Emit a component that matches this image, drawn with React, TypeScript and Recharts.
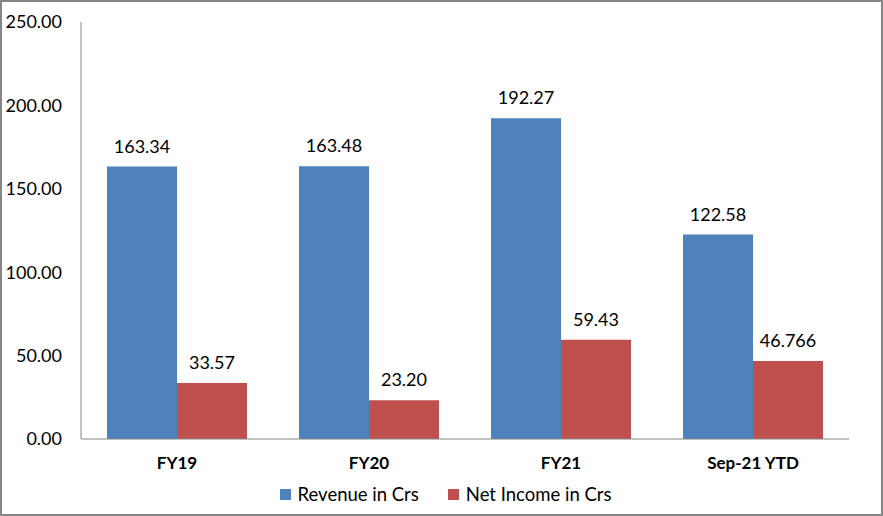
import React from "react"
import { BarChart, Bar, XAxis, YAxis, Legend, LabelList } from "recharts"

const categories = ["FY19", "FY20", "FY21", "Sep-21 YTD"]
const revenue = [163.34, 163.48, 192.27, 122.58]
const netIncome = [33.57, 23.2, 59.43, 46.766]
const revenueLabels = ["163.34", "163.48", "192.27", "122.58"]
const netIncomeLabels = ["33.57", "23.20", "59.43", "46.766"]
const yTicks = [0, 50, 100, 150, 200, 250]

const BLUE = "#4F81BD"
const RED = "#C0504D"
const FONT = "Lato, Carlito, 'Open Sans', sans-serif"

const data = categories.map((name, i) => ({
  name,
  revenue: revenue[i],
  net: netIncome[i],
  revenueLabel: revenueLabels[i],
  netLabel: netIncomeLabels[i],
}))

const legendItems = [
  { label: "Revenue in Crs", color: BLUE },
  { label: "Net Income in Crs", color: RED },
]

function ChartLegend() {
  return (
    <div style={{ display: "flex", justifyContent: "center", gap: 29, fontFamily: FONT, fontSize: 18.5, color: "#000", paddingLeft: 42 }}>
      {legendItems.map((item) => (
        <div key={item.label} style={{ display: "flex", alignItems: "center", gap: 7 }}>
          <span style={{ width: 11, height: 11, background: item.color, display: "inline-block" }} />
          <span>{item.label}</span>
        </div>
      ))}
    </div>
  )
}

export default function App() {
  return (
    <div style={{ position: "absolute", left: 0, top: 0, width: 883, height: 516, background: "#fff" }}>
      <BarChart
        width={883}
        height={516}
        data={data}
        margin={{ top: 22, right: 34, left: 0, bottom: 8 }}
        barCategoryGap={26}
        barGap={0}
      >
        <YAxis
          width={81}
          domain={[0, 250]}
          ticks={yTicks}
          tickFormatter={(v: number) => v.toFixed(2)}
          axisLine={{ stroke: "#868686" }}
          tickLine={false}
          tickSize={0}
          tickMargin={19}
          tick={{ fill: "#000", fontSize: 18, fontFamily: FONT }}
        />
        <XAxis
          dataKey="name"
          height={44}
          axisLine={{ stroke: "#868686" }}
          tickLine={false}
          tickSize={0}
          tickMargin={18}
          tick={{ fill: "#000", fontSize: 17, fontWeight: 700, fontFamily: FONT }}
        />
        <Legend verticalAlign="bottom" height={25} content={<ChartLegend />} />
        <Bar dataKey="revenue" fill={BLUE} isAnimationActive={false}>
          <LabelList dataKey="revenueLabel" position="top" offset={14} fill="#000" fontSize={18} fontFamily={FONT} />
        </Bar>
        <Bar dataKey="net" fill={RED} isAnimationActive={false}>
          <LabelList dataKey="netLabel" position="top" offset={14} fill="#000" fontSize={18} fontFamily={FONT} />
        </Bar>
      </BarChart>
      <div style={{ position: "absolute", inset: 0, border: "2px solid #868686", pointerEvents: "none" }} />
    </div>
  )
}
